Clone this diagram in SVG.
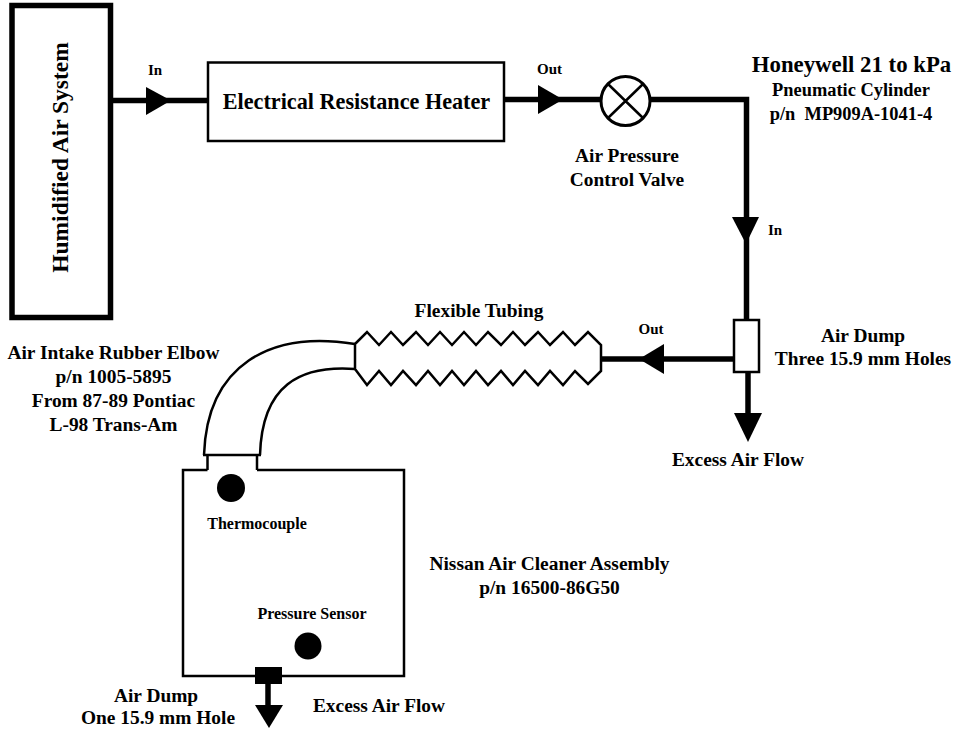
<svg xmlns="http://www.w3.org/2000/svg" width="959" height="732" viewBox="0 0 959 732">
<style>
text{font-family:"Liberation Serif","Times New Roman",serif;font-weight:bold;fill:#000;text-anchor:middle;white-space:pre}
.t19{font-size:19.400px}.t16{font-size:16px}.t15{font-size:15px}
.box{fill:#fff;stroke:#000;stroke-width:2.500}
.pipe{fill:none;stroke:#000;stroke-width:5.500}
.thin{fill:none;stroke:#000;stroke-width:2.500;stroke-linejoin:miter}
</style>
<rect width="959" height="732" fill="#fff"/>
<g id="connectors">
<path class="pipe" d="M111 100.500H207"/>
<path d="M146 87L171 100.500L146 115Z"/>
<path class="pipe" d="M503 99.500H601"/>
<path d="M538 85L563 99.500L538 114Z"/>
<path class="pipe" d="M650 99.500H746.500V320"/>
<path d="M732 217H759L746 244Z"/>
<path class="pipe" d="M734 359H600"/>
<path d="M664 344V374L639 359Z"/>
<path class="pipe" d="M748 372V415"/>
<path d="M734 413H762L748 442Z"/>
<path class="pipe" d="M268 681V706"/>
<path d="M255 705H283L269 728Z"/>
</g>
<g id="humidified-air-system">
<rect x="12" y="5.500" width="98.500" height="312" fill="#fff" stroke="#000" stroke-width="5.500"/>
<text transform="translate(68 157.500) rotate(-90)" style="font-size:23.500px">Humidified Air System</text>
</g>
<g id="heater">
<rect class="box" x="208" y="62.500" width="296" height="78.500"/>
<text x="356.500" y="109" style="font-size:22.200px">Electrical Resistance Heater</text>
</g>
<g id="valve">
<circle cx="625.500" cy="101" r="24.500" fill="#fff" stroke="#000" stroke-width="3"/>
<path class="thin" d="M608 84L643 118M643 84L608 118"/>
</g>
<g id="air-dump-top">
<rect class="box" x="734" y="320" width="25" height="52"/>
</g>
<g id="flexible-tubing">
<path class="thin" d="M355 344L367 332L379 345L391 332L403 345L416 332L428 345L440 332L452 345L464 332L476 345L488 332L501 345L513 332L525 345L538 332L550 345L563 332L575 345L588 332L601 345V358M355 369L367 385L379 371L391 385L403 371L416 385L428 371L440 385L452 371L464 385L476 371L488 385L501 371L513 385L525 371L538 385L550 371L563 385L575 371L588 384L601 371V358M355 344V369"/>
</g>
<g id="rubber-elbow">
<path class="thin" d="M355 344C270 330 207 365 204 455M355 369C300 365 262 385 260 455M203 455H261"/>
<path class="thin" d="M207.500 455V470M257 455V470"/>
</g>
<g id="air-cleaner">
<path class="thin" d="M207.500 470H183V676H404V470H257"/>
<rect x="255" y="667" width="27" height="17"/>
</g>
<g id="thermocouple">
<circle cx="231" cy="488" r="14"/>
</g>
<g id="pressure-sensor">
<circle cx="308" cy="646" r="13.500"/>
</g>
<g id="labels">
<text class="t15" x="155" y="75">In</text>
<text class="t15" x="549.500" y="74">Out</text>
<text x="851.500" y="71.500" style="font-size:22.800px">Honeywell 21 to kPa</text>
<text x="851" y="95.500" style="font-size:18.400px">Pneumatic Cylinder</text>
<text x="851" y="119.500" style="font-size:18.400px">p/n  MP909A-1041-4</text>
<text class="t19" x="627" y="162">Air Pressure</text>
<text class="t19" x="627" y="186">Control Valve</text>
<text class="t15" x="775" y="235">In</text>
<text class="t19" x="479" y="316.500">Flexible Tubing</text>
<text class="t15" x="651" y="334">Out</text>
<text class="t19" x="863" y="341.500">Air Dump</text>
<text class="t19" x="863" y="365">Three 15.9 mm Holes</text>
<text class="t19" x="738" y="465.500">Excess Air Flow</text>
<text class="t19" x="113.500" y="359">Air Intake Rubber Elbow</text>
<text class="t19" x="113.500" y="383">p/n 1005-5895</text>
<text class="t19" x="113.500" y="407">From 87-89 Pontiac</text>
<text class="t19" x="113.500" y="431">L-98 Trans-Am</text>
<text class="t16" x="257" y="529">Thermocouple</text>
<text class="t19" x="549.500" y="570">Nissan Air Cleaner Assembly</text>
<text class="t19" x="549.500" y="594">p/n 16500-86G50</text>
<text class="t16" x="312" y="619">Pressure Sensor</text>
<text class="t19" x="156" y="701.500">Air Dump</text>
<text class="t19" x="158" y="723.500">One 15.9 mm Hole</text>
<text class="t19" x="379" y="712">Excess Air Flow</text>
</g>
</svg>
